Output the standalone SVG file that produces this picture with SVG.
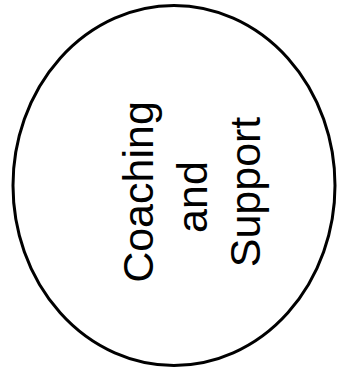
<svg xmlns="http://www.w3.org/2000/svg" width="338" height="369" viewBox="0 0 338 369">
<style>
.shape{fill:#fff;stroke:#000;stroke-width:3}
.lbl{font-family:"Liberation Sans",Arial,sans-serif;font-size:43px;fill:#000;text-anchor:middle}
</style>
<rect width="338" height="369" fill="#fff"/>
<g id="node-coaching">
<ellipse class="shape" cx="174" cy="185.5" rx="161" ry="180"/>
<g transform="rotate(-90)">
<text class="lbl" x="-192" y="153">Coaching</text>
<text class="lbl" x="-197" y="206.5">and</text>
<text class="lbl" x="-192" y="260">Support</text>
</g>
</g>
<g id="connectors"></g>
</svg>
